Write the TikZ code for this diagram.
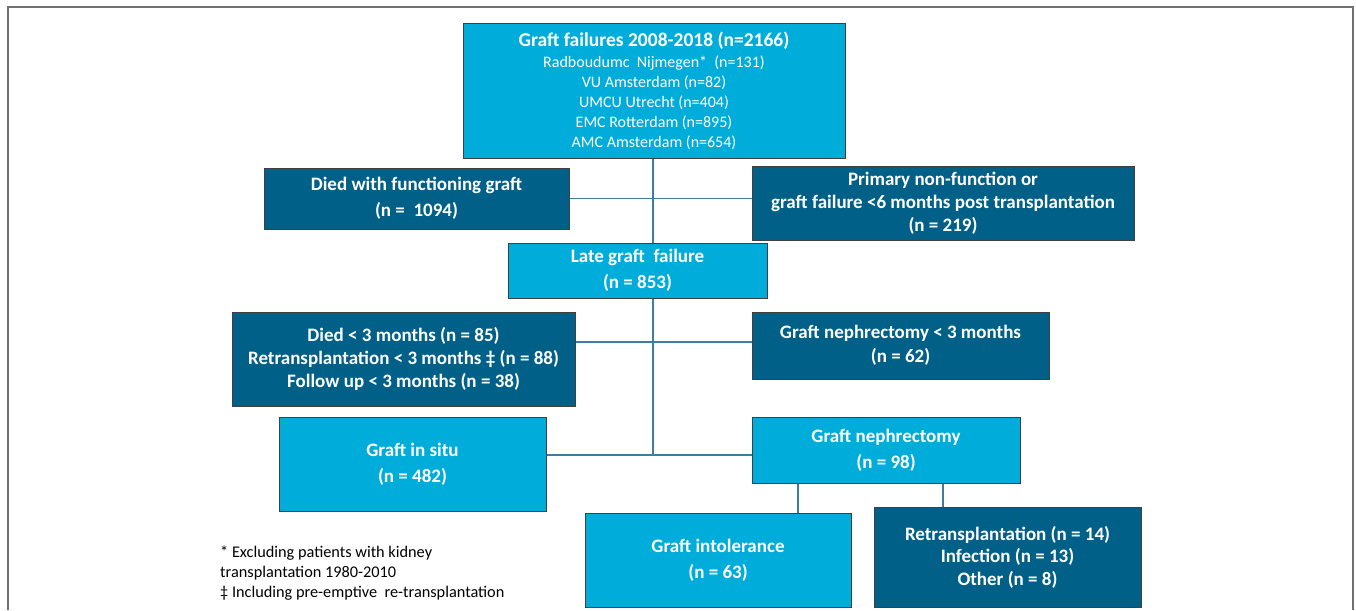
\documentclass[tikz,border=0pt]{standalone}
\usepackage{fontspec}
\setmainfont{Carlito}
\usetikzlibrary{backgrounds}
\definecolor{lblue}{RGB}{0,172,218}
\definecolor{dblue}{RGB}{0,96,136}
\definecolor{linec}{RGB}{62,124,160}
\definecolor{framec}{RGB}{112,112,112}
\tikzset{
  basebox/.style={draw=black!75, line width=0.9pt, text=white, align=center, inner sep=0pt,
    font=\fontsize{19}{26}\selectfont\bfseries},
  lbox/.style={basebox, fill=lblue},
  dbox/.style={basebox, fill=dblue},
  conn/.style={draw=linec, line width=1.2pt},
  note/.style={align=left, anchor=north west, inner sep=0pt, font=\fontsize{16.3}{20}\selectfont}
}
\begin{document}
\begin{tikzpicture}[x=1pt,y=-1pt]
\useasboundingbox (0,0) rectangle (1356,610);
\draw[framec, line width=2pt] (8,610) -- (8,7) -- (1353,7) -- (1353,610);

\node[lbox, minimum width=382pt, minimum height=135pt, font=\fontsize{16}{20}\selectfont] (top) at (654,90.5)
  {{\bfseries\fontsize{19.5}{22}\selectfont Graft failures 2008-2018 (n=2166)}\\[1pt]
   Radboudumc\ \ Nijmegen*\ \ (n=131)\\
   VU Amsterdam (n=82)\\
   UMCU Utrecht (n=404)\\
   EMC Rotterdam (n=895)\\
   AMC Amsterdam (n=654)};
\node[dbox, minimum width=305pt, minimum height=61pt] (died) at (416.5,198.5)
  {Died with functioning graft\\(n =\ \ 1094)};
\node[dbox, minimum width=382pt, minimum height=74pt] (pnf) at (943,203)
  {Primary non-function or\\[-3pt]graft failure <6 months post transplantation\\[-3pt](n = 219)};
\node[lbox, minimum width=259pt, minimum height=55pt] (late) at (637.5,270.5)
  {Late graft\ \ failure\\(n = 853)};
\node[dbox, minimum width=343pt, minimum height=94pt] (died3) at (403.5,359)
  {Died < 3 months (n = 85)\\[-3pt]Retransplantation < 3 months ‡ (n = 88)\\[-3pt]Follow up < 3 months (n = 38)};
\node[dbox, minimum width=297pt, minimum height=67pt] (gn3) at (900.5,345.5)
  {Graft nephrectomy < 3 months\\[-2pt](n = 62)};
\node[lbox, minimum width=267pt, minimum height=94pt] (insitu) at (412.5,464)
  {Graft in situ\\(n = 482)};
\node[lbox, minimum width=268pt, minimum height=66pt] (gn) at (886,450)
  {Graft nephrectomy\\(n = 98)};
\node[lbox, minimum width=266pt, minimum height=94pt] (gi) at (718,560)
  {Graft intolerance\\(n = 63)};
\node[dbox, minimum width=267pt, minimum height=100pt] (retx) at (1007.5,557)
  {Retransplantation (n = 14)\\[-3.5pt]Infection (n = 13)\\[-3.5pt]Other (n = 8)};

\node[note] (fn) at (220,546)
  {* Excluding patients with kidney\\transplantation 1980-2010\\‡ Including pre-emptive\ \ re-transplantation};

\begin{scope}[on background layer]
  \coordinate (trunkend) at (653,455);
  \draw[conn] (top.south -| trunkend) -- (trunkend);
  \draw[conn] (died.east) -- (pnf.west |- died.east);
  \coordinate (h2) at (0,342);
  \draw[conn] (died3.east |- h2) -- (gn3.west |- h2);
  \draw[conn] (insitu.east |- trunkend) -- (gn.west |- trunkend);
  \coordinate (b1) at (798,0);
  \coordinate (b2) at (943,0);
  \draw[conn] (gn.south -| b1) -- (gi.north -| b1);
  \draw[conn] (gn.south -| b2) -- (retx.north -| b2);
\end{scope}
\end{tikzpicture}
\end{document}
